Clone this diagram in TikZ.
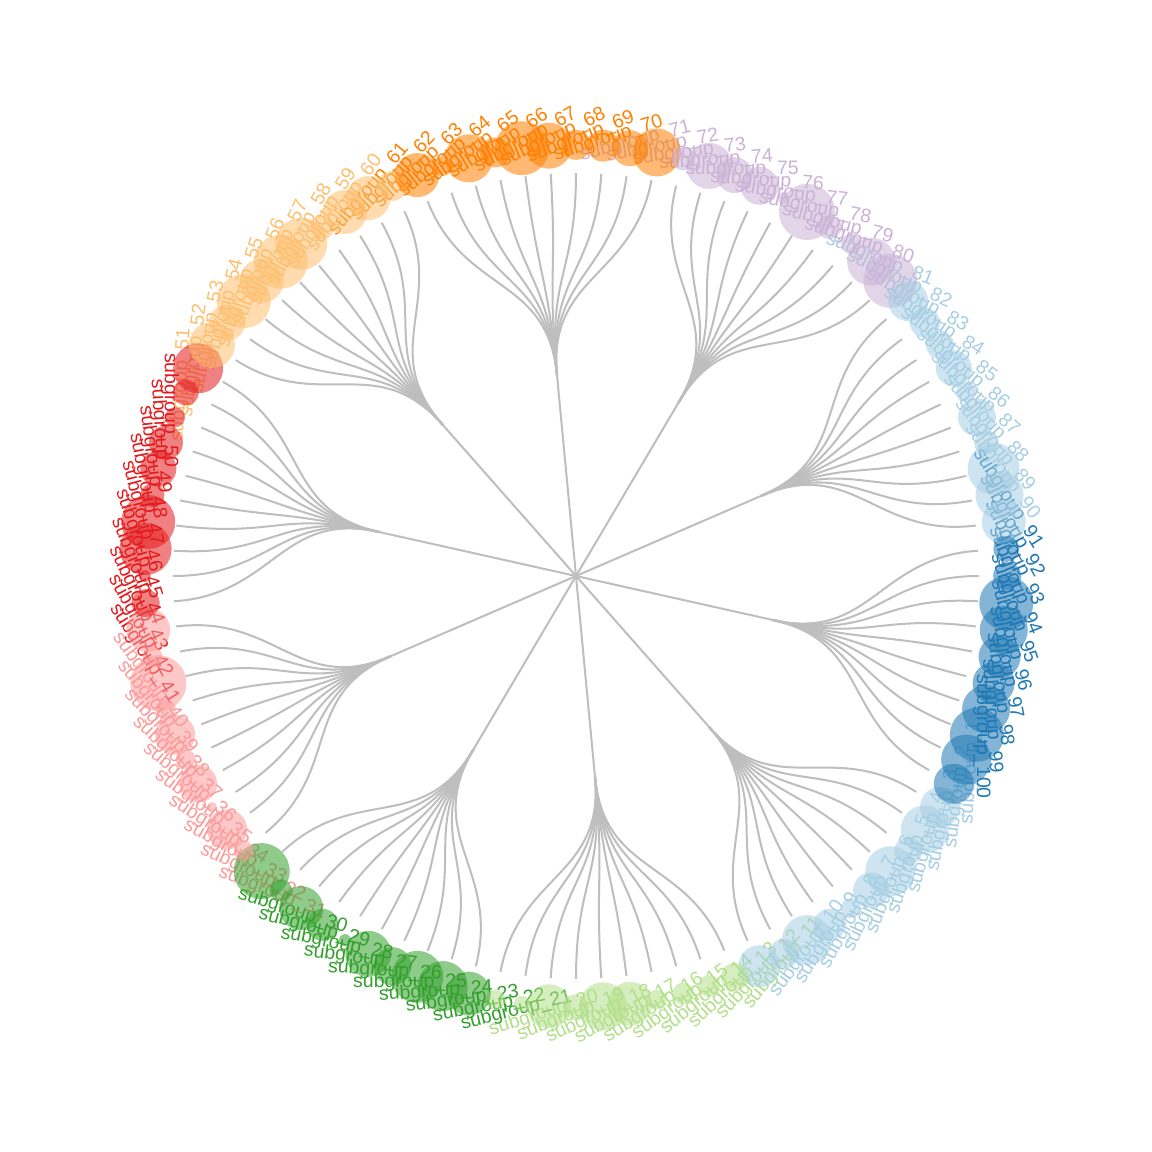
\documentclass[tikz,border=0pt]{standalone}
\usepackage{fontspec}
\setmainfont{Liberation Sans}
\definecolor{edgegrey}{HTML}{BEBEBE}
\definecolor{grp1}{HTML}{A6CEE3}
\definecolor{grp2}{HTML}{B2DF8A}
\definecolor{grp3}{HTML}{33A02C}
\definecolor{grp4}{HTML}{FB9A99}
\definecolor{grp5}{HTML}{E31A1C}
\definecolor{grp6}{HTML}{FDBF6F}
\definecolor{grp7}{HTML}{FF7F00}
\definecolor{grp8}{HTML}{CAB2D6}
\definecolor{grp9}{HTML}{A6CEE3}
\definecolor{grp10}{HTML}{1F78B4}
\begin{document}
\begin{tikzpicture}[
        x=5.6cm, y=5.6cm,
        edge/.style={draw=edgegrey, line width=0.8pt},
        leaflabel/.style={inner sep=0pt, font=\fontsize{7.7}{9}\selectfont},
        bubble/.style={circle, draw=none, inner sep=0pt, fill opacity=0.55}
    ]
    \useasboundingbox (-1.4293,-1.4293) rectangle (1.4293,1.4293);
    \coordinate (origin) at (0,0);
    \foreach \g in {1,...,10} {
        \pgfmathsetmacro\ga{-3.6*(10*\g+3.5)}
        \coordinate (g\g) at (\ga:0.5);
        \coordinate (gc\g) at (\ga:0.75);
        \draw[edge] (origin) -- (g\g);
    }
    \foreach \k in {1,...,100} {
        \pgfmathtruncatemacro\g{int((\k-1)/10)+1}
        \pgfmathsetmacro\la{-3.6*(\k+8)}
        \coordinate (l\k) at (\la:1);
        \coordinate (lc\k) at (\la:0.75);
        \draw[edge] (g\g) .. controls (gc\g) and (lc\k) .. (l\k);
    }
    \foreach \k in {1,...,100} {
        \pgfmathtruncatemacro\g{int((\k-1)/10)+1}
        \pgfmathsetmacro\la{-3.6*(\k+8)}
        \ifnum\k<51
            \pgfmathsetmacro\rot{90-3.6*\k}
            \node[leaflabel, text=grp\g, anchor=west, rotate=\rot] (t\k) at (\la:1.15) {subgroup\_\k};
        \else
            \pgfmathsetmacro\rot{270-3.6*\k}
            \node[leaflabel, text=grp\g, anchor=east, rotate=\rot] (t\k) at (\la:1.15) {subgroup\_\k};
        \fi
    }
    \foreach \k/\r in {1/20, 2/24, 3/14, 4/25, 5/18, 6/10, 7/16, 8/25, 9/15, 10/21,
        11/14, 12/11, 13/11, 14/10, 15/22, 16/24, 17/13, 18/22, 19/8, 20/10,
        21/22, 22/25, 23/26, 24/19, 25/23, 26/6, 27/16, 28/22, 29/11, 30/28,
        31/10, 32/20, 33/5, 34/19, 35/10, 36/20, 37/10, 38/28, 39/10, 40/22,
        41/14, 42/6, 43/26, 44/27, 45/12, 46/18, 47/17, 48/10, 49/13, 50/25,
        51/23, 52/18, 53/27, 54/22, 55/27, 56/26, 57/12, 58/22, 59/22, 60/15,
        61/22, 62/10, 63/24, 64/15, 65/27, 66/23, 67/15, 68/16, 69/18, 70/24,
        71/12, 72/23, 73/18, 74/19, 75/6, 76/28, 77/12, 78/10, 79/24, 80/27,
        81/20, 82/15, 83/14, 84/18, 85/10, 86/19, 87/12, 88/26, 89/24, 90/22,
        91/13, 92/14, 93/27, 94/24, 95/21, 96/21, 97/24, 98/27, 99/25, 100/20} {
        \pgfmathtruncatemacro\g{int((\k-1)/10)+1}
        \pgfmathsetmacro\la{-3.6*(\k+8)}
        \node[bubble, fill=grp\g, minimum size=\r*0.0278cm] (b\k) at (\la:1.07) {};
    }
\end{tikzpicture}
\end{document}
